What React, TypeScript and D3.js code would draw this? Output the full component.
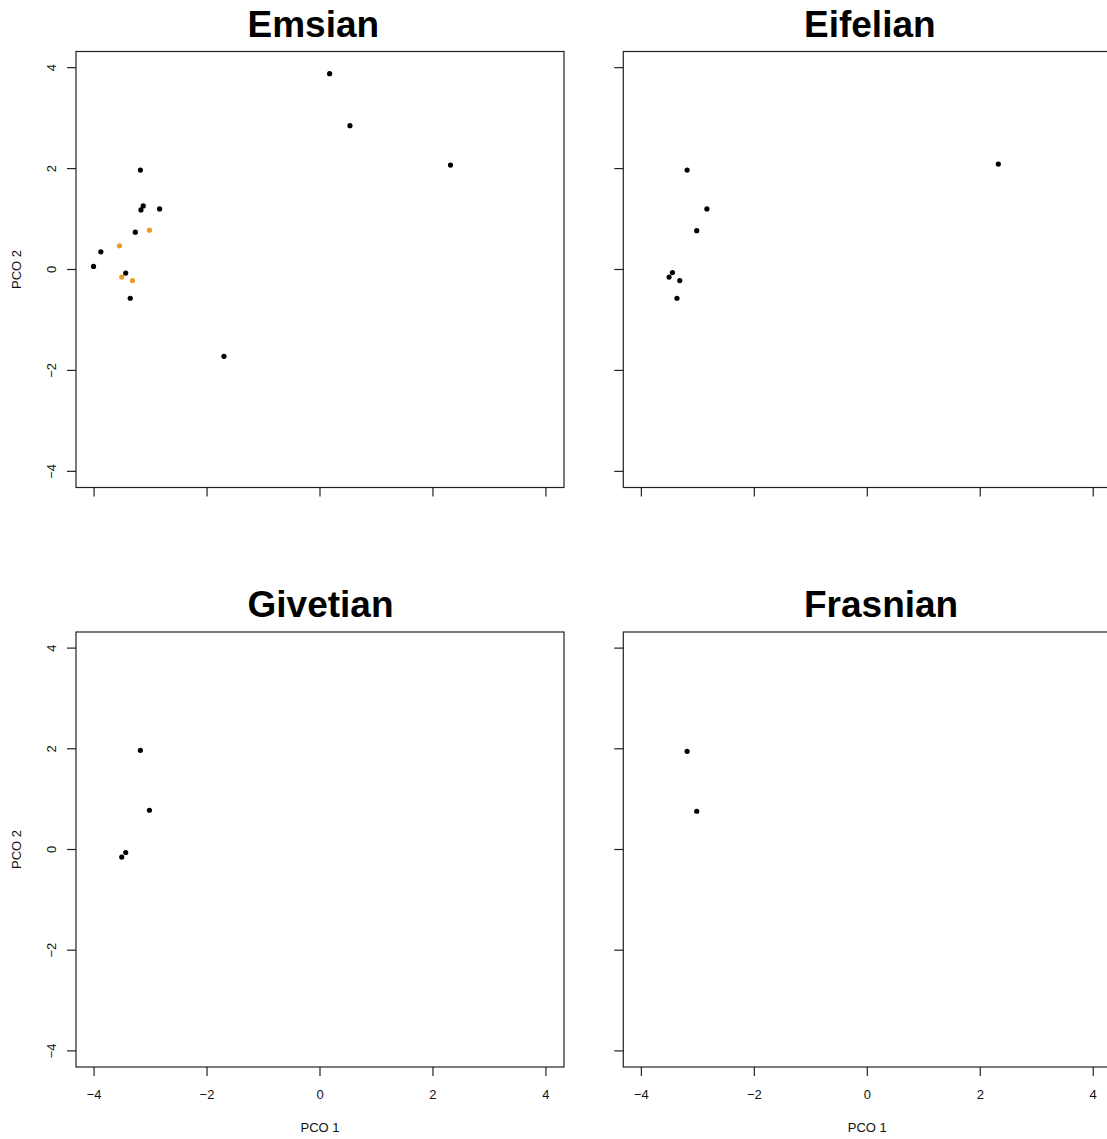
import React from 'react';
import * as d3 from 'd3';

// stage titles, one per panel (row by row)
const stages = ['Emsian', 'Eifelian', 'Givetian', 'Frasnian'];

// PCO scores per stage
const emsianX = [-3.18, -3.13, -3.17, -2.84, -3.27, -3.02, -3.55, -3.88, -4.01, -3.44, -3.51, -3.32, -3.36, 0.17, 0.53, 2.31, -1.70];
const emsianY = [1.97, 1.26, 1.18, 1.20, 0.74, 0.78, 0.47, 0.35, 0.06, -0.07, -0.15, -0.22, -0.57, 3.88, 2.85, 2.07, -1.72];
const emsianGroup = ['a', 'a', 'a', 'a', 'a', 'b', 'b', 'a', 'a', 'a', 'b', 'b', 'a', 'a', 'a', 'a', 'a'];

const eifelianX = [-3.19, -2.84, -3.02, -3.45, -3.51, -3.32, -3.37, 2.32];
const eifelianY = [1.97, 1.20, 0.77, -0.06, -0.15, -0.22, -0.57, 2.09];

const givetianX = [-3.18, -3.02, -3.44, -3.51];
const givetianY = [1.97, 0.78, -0.06, -0.15];

const frasnianX = [-3.19, -3.02];
const frasnianY = [1.95, 0.76];

const tickValues = [-4, -2, 0, 2, 4];

const groupColor: Record<string, string> = { a: '#000000', b: '#EE9A28' };

const toPoints = (xs: number[], ys: number[], gs?: string[]) =>
    xs.map((x, i) => ({ x, y: ys[i], g: gs ? gs[i] : 'a' }));

const panelData = [
    toPoints(emsianX, emsianY, emsianGroup),
    toPoints(eifelianX, eifelianY),
    toPoints(givetianX, givetianY),
    toPoints(frasnianX, frasnianY),
];

const fmt = (v: number) => (v < 0 ? '\u2212' + Math.abs(v) : String(v));

const Panel = ({ idx }: { idx: number }) => {
    const col = idx % 2;
    const row = Math.floor(idx / 2);
    const left = col === 0 ? 76 : 623.3;
    const top = row === 0 ? 51.5 : 632;
    const w = 488;
    const h = row === 0 ? 436 : 435;
    const x = d3.scaleLinear().domain([-4.32, 4.32]).range([left, left + w]);
    const y = d3.scaleLinear().domain([-4.32, 4.32]).range([top + h, top]);
    const tl = 9;
    const titleX = col === 0 ? 247.5 : 804;
    const font = 'Liberation Sans, Arial, Helvetica, sans-serif';
    return (
        <g>
            <text x={titleX} y={top - 15} textAnchor="start" fontFamily={font}
                fontWeight="bold" fontSize={37}>{stages[idx]}</text>
            <rect x={left} y={top} width={w} height={h} fill="none" stroke="#222" strokeWidth={1.2} />
            {/* x axis ticks */}
            {tickValues.map(t => (
                <g key={'x' + t}>
                    <line x1={x(t)} x2={x(t)} y1={top + h} y2={top + h + tl} stroke="#222" strokeWidth={1.2} />
                    {row === 1 && (
                        <text x={x(t)} y={top + h + 32} textAnchor="middle" fontFamily={font}
                            fontSize={13} fill="#111">{fmt(t)}</text>
                    )}
                </g>
            ))}
            {/* y axis ticks */}
            {tickValues.map(t => (
                <g key={'y' + t}>
                    <line x1={left - tl} x2={left} y1={y(t)} y2={y(t)} stroke="#222" strokeWidth={1.2} />
                    {col === 0 && (
                        <text transform={`translate(${left - 20.5},${y(t)}) rotate(-90)`} textAnchor="middle"
                            fontFamily={font} fontSize={13} fill="#111">{fmt(t)}</text>
                    )}
                </g>
            ))}
            {col === 0 && (
                <text transform={`translate(21,${top + h / 2}) rotate(-90)`} textAnchor="middle"
                    fontFamily={font} fontSize={13} fill="#111">PCO 2</text>
            )}
            {row === 1 && (
                <text x={left + w / 2} y={top + h + 64.5} textAnchor="middle" fontFamily={font}
                    fontSize={13} fill="#111">PCO 1</text>
            )}
            {panelData[idx].map((d, i) => (
                <circle key={i} cx={x(d.x)} cy={y(d.y)} r={2.6} fill={groupColor[d.g]} />
            ))}
        </g>
    );
};

export default function App() {
    return (
        <svg width={1107} height={1139} style={{ position: 'absolute', left: 0, top: 0, background: '#fff' }}>
            {stages.map((s, i) => <Panel key={s} idx={i} />)}
        </svg>
    );
}
